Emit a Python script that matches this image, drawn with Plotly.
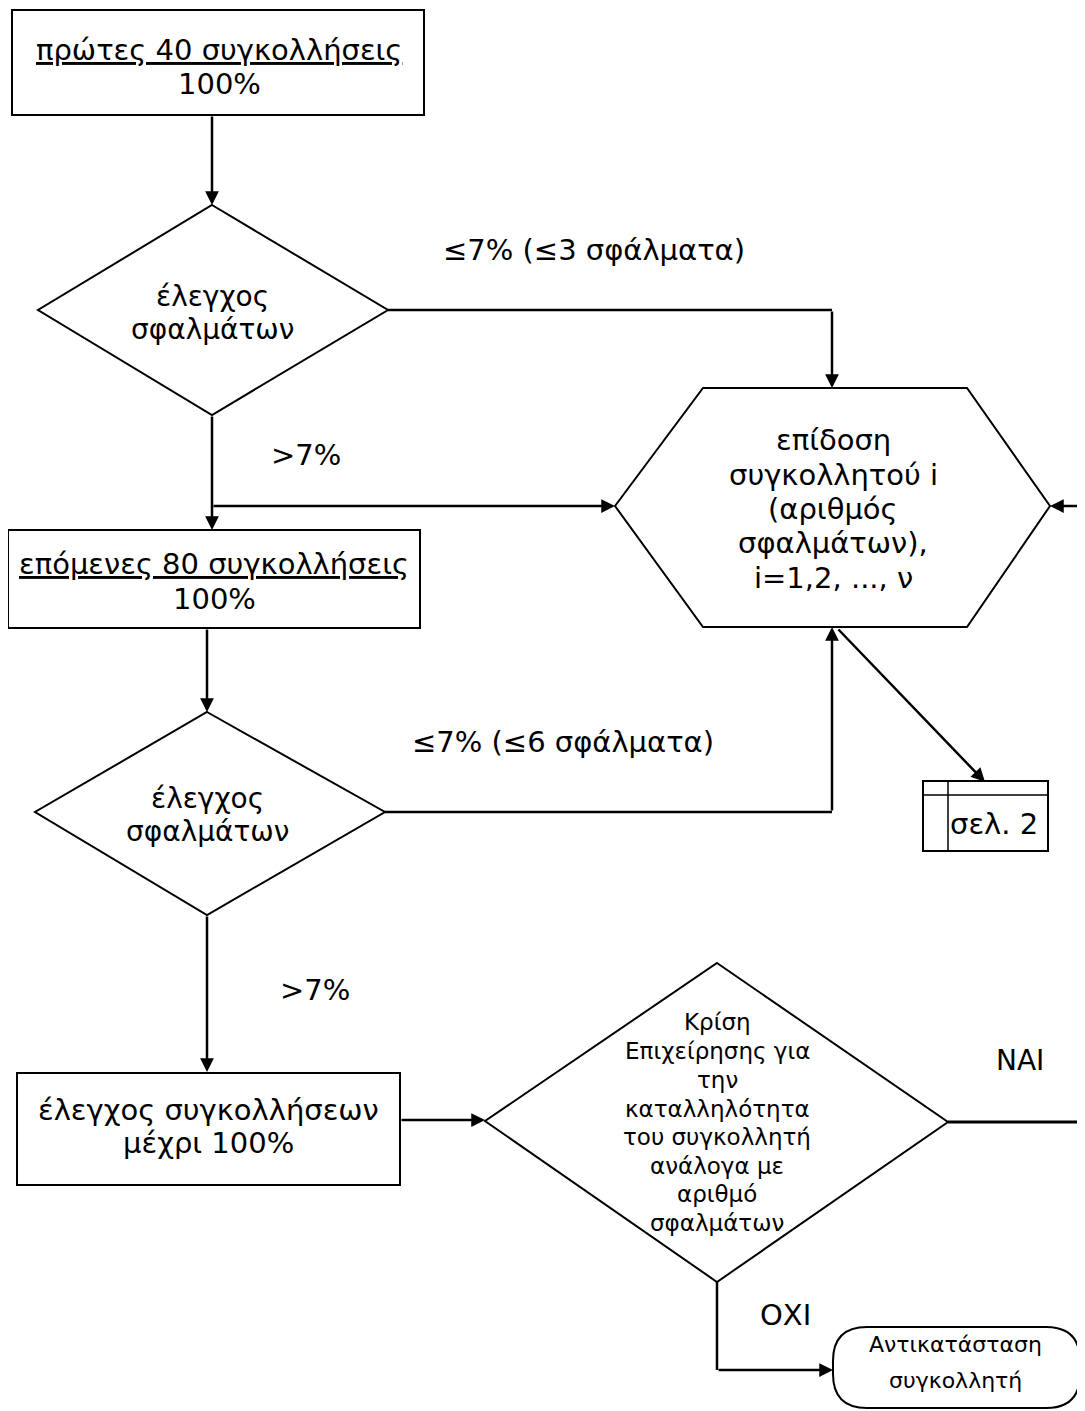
import plotly.graph_objects as go

# ---- content (text of the flowchart) ----
box1_lines = ["<u>πρώτες 40 συγκολλήσεις</u>", "100%"]
box2_lines = ["<u>επόμενες 80 συγκολλήσεις</u>", "100%"]
box3_lines = ["έλεγχος συγκολλήσεων", "μέχρι 100%"]
diamond_check_lines = ["έλεγχος", "σφαλμάτων"]
hexagon_lines = ["επίδοση", "συγκολλητού i", "(αριθμός", "σφαλμάτων),", "i=1,2, ..., ν"]
decision_lines = ["Κρίση", "Επιχείρησης για", "την", "καταλληλότητα",
                  "του συγκολλητή", "ανάλογα με", "αριθμό", "σφαλμάτων"]
terminal_lines = ["Αντικατάσταση", "συγκολλητή"]
page_ref = "σελ. 2"
edge_labels = ["≤7% (≤3 σφάλματα)", ">7%", "≤7% (≤6 σφάλματα)", ">7%", "ΝΑΙ", "ΟΧΙ"]

# ---- layout geometry (pixel space) ----
W, H = 1085, 1411
OFF = 8  # page body margin
FONT = "DejaVu Sans"
LW = 2
AW = 2.5
FS = 29

shapes = []
annos = []

def rect(x0, y0, x1, y1, w=LW):
    shapes.append(dict(type="rect", x0=x0, y0=y0, x1=x1, y1=y1,
                       line=dict(color="black", width=w), fillcolor="white", layer="below"))

def poly(pts):
    d = "M " + " L ".join(f"{x},{y}" for x, y in pts) + " Z"
    shapes.append(dict(type="path", path=d, line=dict(color="black", width=LW),
                       fillcolor="white", layer="below"))

def line(pts, w=AW):
    d = "M " + " L ".join(f"{x},{y}" for x, y in pts)
    shapes.append(dict(type="path", path=d, line=dict(color="black", width=w)))

def arrow(x0, y0, x1, y1, w=AW):
    annos.append(dict(x=x1, y=y1, ax=x0, ay=y0, xref="x", yref="y", axref="x", ayref="y",
                      text="", showarrow=True, arrowhead=2, arrowsize=1.1, arrowwidth=w,
                      arrowcolor="black", standoff=0, startstandoff=0))

def text_block(lines, cx, ys, size):
    for t, y in zip(lines, ys):
        annos.append(dict(x=cx, y=y, xref="x", yref="y", text=t, showarrow=False,
                          font=dict(family=FONT, size=size, color="black"),
                          xanchor="center", yanchor="middle"))

def label(t, x, y, size=FS):
    annos.append(dict(x=x, y=y, xref="x", yref="y", text=t, showarrow=False,
                      font=dict(family=FONT, size=size, color="black"),
                      xanchor="center", yanchor="middle"))

# Box 1
rect(12, 10, 424, 115)
text_block(box1_lines, 219, [50, 84], FS)
arrow(212, 115, 212, 205)

# Diamond 1
poly([(212, 205), (388, 310), (212, 415), (38, 310)])
text_block(diamond_check_lines, 212, [296, 329], FS - 1)
line([(388, 310), (832, 310)])
arrow(832, 310, 832, 388)
label(edge_labels[0], 594, 250)

# down to box 2 and branch to hexagon
arrow(212, 415, 212, 530)
arrow(212, 506, 615, 506)
label(edge_labels[1], 306, 455)

# Hexagon
poly([(615, 506), (703, 388), (967, 388), (1050, 506), (967, 627), (703, 627)])
text_block(hexagon_lines, 833, [440, 475, 509, 543, 578], FS)
arrow(1085, 506, 1050, 506)

# Box 2
rect(8, 530, 420, 628)
text_block(box2_lines, 214, [564, 599], FS)
arrow(207, 628, 207, 712)

# Diamond 2
poly([(207, 712), (385, 812), (207, 915), (35, 812)])
text_block(diamond_check_lines, 207, [798, 831], FS - 1)
line([(385, 812), (832, 812)])
arrow(832, 812, 832, 627)
label(edge_labels[2], 563, 742)

# page reference
arrow(837, 628, 985, 782)
rect(923, 781, 1048, 851)
line([(948, 781), (948, 851)], 1.5)
line([(923, 795), (1048, 795)], 1.5)
annos.append(dict(x=948, y=824, xref="x", yref="y", text=page_ref, showarrow=False,
                  font=dict(family=FONT, size=FS, color="black"),
                  xanchor="left", yanchor="middle"))

# down to box 3
arrow(207, 915, 207, 1072)
label(edge_labels[3], 315, 990)

# Box 3
rect(17, 1073, 400, 1185)
text_block(box3_lines, 208, [1110, 1143], FS)
arrow(400, 1120, 485, 1120)

# Decision diamond
poly([(717, 963), (948, 1122), (717, 1282), (485, 1121)])
text_block(decision_lines, 717, [1022, 1051, 1080, 1109, 1137, 1166, 1194, 1223], 23)
line([(948, 1122), (1085, 1122)], 3)
label(edge_labels[4], 1020, 1060, 28)

line([(717, 1282), (717, 1370)])
arrow(717, 1370, 833, 1370)
label(edge_labels[5], 785, 1315, 29)

# Terminal (rounded)
x0, y0, x1, y1, r = 833, 1327, 1080, 1408, 34
shapes.append(dict(type="path",
                   path=(f"M {x0+r},{y0} L {x1-r},{y0} Q {x1},{y0} {x1},{y0+r} "
                         f"L {x1},{y1-r} Q {x1},{y1} {x1-r},{y1} L {x0+r},{y1} "
                         f"Q {x0},{y1} {x0},{y1-r} L {x0},{y0+r} Q {x0},{y0} {x0+r},{y0} Z"),
                   line=dict(color="black", width=LW), fillcolor="white", layer="below"))
text_block(terminal_lines, 955, [1344, 1380], 22)

fig = go.Figure()
fig.update_layout(
    width=W - OFF, height=H - OFF, margin=dict(l=0, r=0, t=0, b=0),
    paper_bgcolor="white", plot_bgcolor="white",
    xaxis=dict(range=[OFF, W], visible=False, fixedrange=True),
    yaxis=dict(range=[H, OFF], visible=False, fixedrange=True),
    shapes=shapes, annotations=annos, showlegend=False,
)
fig.write_html("out.html")
